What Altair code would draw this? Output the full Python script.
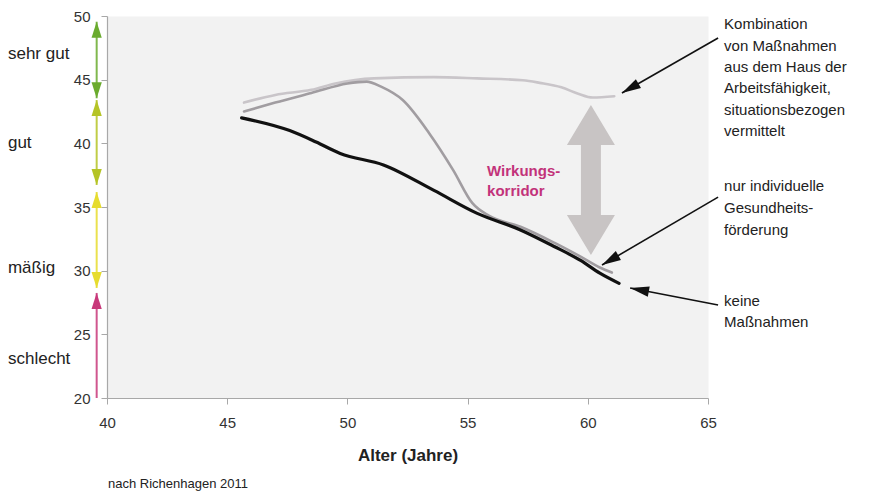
import math
import altair as alt
import pandas as pd

# ---------------- data ----------------
# Kombination von Maßnahmen (light grey)
age_kombi = [45.7, 47.0, 48.5, 49.5, 51.1, 53.6, 55.4, 57.3, 58.0, 58.9, 59.6, 60.2, 61.1]
val_kombi = [43.2, 43.8, 44.2, 44.7, 45.1, 45.2, 45.1, 44.95, 44.75, 44.4, 43.9, 43.6, 43.7]
# nur individuelle Gesundheitsförderung (mid grey)
age_indiv = [45.7, 47.0, 48.5, 50.0, 50.8, 51.4, 52.3, 53.4, 54.4, 55.2, 55.9, 57.2, 58.6, 59.7, 60.5, 61.0]
val_indiv = [42.5, 43.2, 43.95, 44.7, 44.85, 44.45, 43.4, 40.8, 37.9, 35.3, 34.3, 33.45, 32.2, 31.1, 30.25, 29.85]
# keine Maßnahmen (black)
age_keine = [45.6, 47.6, 48.7, 49.7, 51.5, 53.6, 55.4, 57.2, 58.6, 59.7, 60.5, 61.3]
val_keine = [42.0, 41.0, 40.1, 39.2, 38.3, 36.3, 34.5, 33.2, 31.9, 30.8, 29.8, 29.0]

x_ticks = [40, 45, 50, 55, 60, 65]
y_ticks = [20, 25, 30, 35, 40, 45, 50]

# WAI categories on the left
cat_labels = ["sehr gut", "gut", "mäßig", "schlecht"]
cat_y = [47.0, 40.0, 30.2, 23.1]
cat_x = [35.88, 35.88, 35.88, 35.88]
seg_colors = ["#6aab2e", "#b5c426", "#e6dc2e", "#c8387a"]
seg_top = [49.55, 43.40, 36.18, 28.25]
seg_bottom = [43.54, 36.73, 28.64, 20.0]
seg_down_head = [True, True, True, False]
seg_x = 39.57

# right-hand annotations
ann_lines = ["Kombination", "von Maßnahmen", "aus dem Haus der", "Arbeitsfähigkeit,",
             "situationsbezogen", "vermittelt",
             "nur individuelle", "Gesundheits-", "förderung",
             "keine", "Maßnahmen"]
ann_y = [49.37, 47.68, 45.99, 44.31, 42.62, 40.93, 36.65, 34.92, 33.23, 27.62, 25.97]
ann_x = 65.67
arrow_start_x = [65.42, 65.42, 65.42]
arrow_start_y = [48.27, 35.78, 27.30]
arrow_tip_x = [61.42, 60.59, 61.76]
arrow_tip_y = [43.95, 30.44, 28.64]

corr_lines = ["Wirkungs-", "korridor"]
corr_x = 55.81
corr_y = [37.83, 36.26]
big_arrow_x = [60.13]
big_arrow_y = [37.12]

footer = "nach Richenhagen 2011"
footer_x = 40.04
footer_y = 13.25

# ---------------- layout ----------------
W, H = 601, 382
PX_X = W / 25.0
PX_Y = H / 30.0
FONT = "Liberation Sans"

xs = alt.Scale(domain=[40, 65], nice=False, zero=False)
ys = alt.Scale(domain=[20, 50], nice=False, zero=False)
x_axis = alt.Axis(values=x_ticks, title="Alter (Jahre)", grid=False, tickSize=6,
                  labelPadding=11, titlePadding=17, format="d", labelFlush=False)
y_axis = alt.Axis(values=y_ticks, title=None, grid=False, tickSize=6,
                  labelPadding=11, format="d", labelFlush=False)


def X(f):
    return alt.X(f"{f}:Q", scale=xs, axis=x_axis)


def Y(f):
    return alt.Y(f"{f}:Q", scale=ys, axis=y_axis)


def line_layer(ages, vals, color, width):
    df = pd.DataFrame({"age": ages, "wai": vals})
    return alt.Chart(df).mark_line(color=color, strokeWidth=width, interpolate="monotone",
                                   strokeCap="round").encode(x=X("age"), y=Y("wai"))


l_kombi = line_layer(age_kombi, val_kombi, "#c9c5c9", 2.6)
l_indiv = line_layer(age_indiv, val_indiv, "#a19da1", 2.6)
l_keine = line_layer(age_keine, val_keine, "#111111", 3.2)

# big grey double arrow (Wirkungskorridor)
big_path = ("M0,-1L0.32,-0.467L0.133,-0.467L0.133,0.467L0.32,0.467L0,1"
            "L-0.32,0.467L-0.133,0.467L-0.133,-0.467L-0.32,-0.467Z")
big_df = pd.DataFrame({"x": big_arrow_x, "y": big_arrow_y})
big_arrow = alt.Chart(big_df).mark_point(shape=big_path, size=150 * 150, filled=True,
                                         fill="#c8c4c4", strokeWidth=0, opacity=1).encode(
    x=X("x"), y=Y("y"))

corr_df = pd.DataFrame({"x": [corr_x] * 2, "y": corr_y, "t": corr_lines})
corr_text = alt.Chart(corr_df).mark_text(align="left", baseline="middle", font=FONT,
                                         fontSize=15, fontWeight="bold",
                                         color="#c2337a").encode(
    x=X("x"), y=Y("y"), text="t:N")

# left coloured double arrows
seg_df = pd.DataFrame({"x": [seg_x] * 4, "top": seg_top, "bottom": seg_bottom, "col": seg_colors})
seg_rules = alt.Chart(seg_df).mark_rule(strokeWidth=2, opacity=0.85).encode(
    x=X("x"), y=Y("top"), y2="bottom:Q", color=alt.Color("col:N", scale=None))

head_rows = []
for c, t, b, d in zip(seg_colors, seg_top, seg_bottom, seg_down_head):
    head_rows.append({"x": seg_x, "y": t, "ang": 0, "col": c})
    if d:
        head_rows.append({"x": seg_x, "y": b, "ang": 180, "col": c})
head_df = pd.DataFrame(head_rows)
small_head = "M0,0L-0.32,1L0.32,1Z"
seg_heads = alt.Chart(head_df).mark_point(shape=small_head, size=32 * 32, filled=True,
                                          strokeWidth=0, opacity=1).encode(
    x=X("x"), y=Y("y"), angle=alt.Angle("ang:Q", scale=None),
    fill=alt.Fill("col:N", scale=None))

cat_df = pd.DataFrame({"x": cat_x, "y": cat_y, "t": cat_labels})
cat_text = alt.Chart(cat_df).mark_text(align="left", baseline="middle", font=FONT,
                                       fontSize=17, color="#222222").encode(
    x=X("x"), y=Y("y"), text="t:N")

# right annotations
ann_df = pd.DataFrame({"x": [ann_x] * len(ann_lines), "y": ann_y, "t": ann_lines})
ann_text = alt.Chart(ann_df).mark_text(align="left", baseline="middle", font=FONT,
                                       fontSize=15, color="#222222").encode(
    x=X("x"), y=Y("y"), text="t:N")

arr_df = pd.DataFrame({"x": arrow_start_x, "y": arrow_start_y,
                       "x2": arrow_tip_x, "y2": arrow_tip_y})
arr_df["ang"] = [
    math.degrees(math.atan2((tx - sx) * PX_X, (ty - sy) * PX_Y)) % 360
    for sx, sy, tx, ty in zip(arrow_start_x, arrow_start_y, arrow_tip_x, arrow_tip_y)
]
arr_rules = alt.Chart(arr_df).mark_rule(color="#111111", strokeWidth=1.6).encode(
    x=X("x"), y=Y("y"), x2="x2:Q", y2="y2:Q")
arr_heads = alt.Chart(arr_df).mark_point(shape="M0,0L-0.27,1L0.27,1Z", size=38 * 38,
                                         filled=True, fill="#111111", strokeWidth=0,
                                         opacity=1).encode(
    x=X("x2"), y=Y("y2"), angle=alt.Angle("ang:Q", scale=None))

foot_df = pd.DataFrame({"x": [footer_x], "y": [footer_y], "t": [footer]})
foot_text = alt.Chart(foot_df).mark_text(align="left", baseline="middle", font=FONT,
                                         fontSize=13, color="#222222").encode(
    x=X("x"), y=Y("y"), text="t:N")

chart = alt.layer(
    l_kombi, l_indiv, l_keine, big_arrow, corr_text,
    seg_rules, seg_heads, cat_text, ann_text, arr_rules, arr_heads, foot_text
).properties(
    width=W, height=H,
    autosize=alt.AutoSizeParams(type="none"),
    padding={"left": 99, "top": 8, "right": 155, "bottom": 94},
    background="white",
).configure_view(
    fill="#f2f2f2", stroke="transparent"
).configure_axis(
    domainColor="#a8a8a8", tickColor="#a8a8a8", labelColor="#333333",
    labelFont=FONT, labelFontSize=15, titleFont=FONT, titleFontSize=17,
    titleFontWeight="bold", titleColor="#222222", domainWidth=1.2
)

chart.save("out.html", embed_options={"renderer": "svg", "actions": False})
